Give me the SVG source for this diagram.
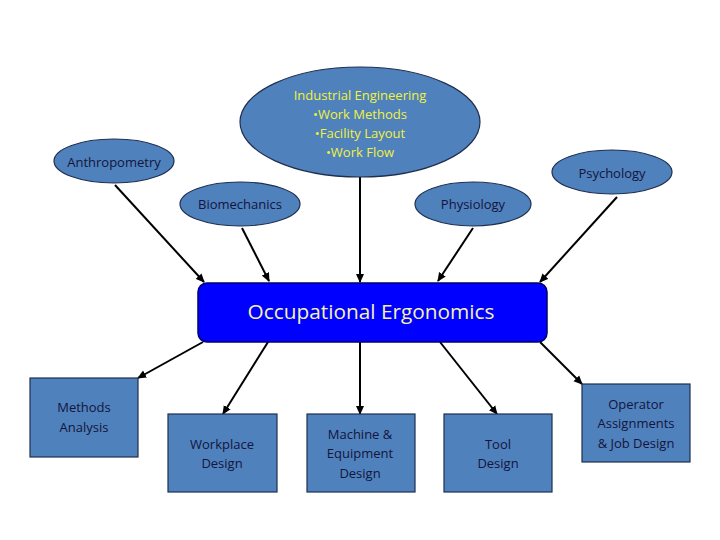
<svg xmlns="http://www.w3.org/2000/svg" width="720" height="540" viewBox="0 0 720 540">
<style>
.n{fill:#4f81bd;stroke:#1f2f4f;stroke-width:1.2}
.t{font-family:"Open Sans","Liberation Sans",sans-serif;font-size:13px;fill:#14143c;text-anchor:middle}
.y{fill:#f2f23c}
.c line{stroke:#000;stroke-width:2;marker-end:url(#a)}
</style>
<defs>
<marker id="a" markerWidth="9" markerHeight="9" refX="8" refY="4.5" orient="auto" markerUnits="userSpaceOnUse">
<path d="M0,0.5 L9,4.5 L0,8.5 Z" fill="#000"/>
</marker>
</defs>
<rect width="720" height="540" fill="#fff"/>
<g class="c">
<line x1="115" y1="185" x2="204" y2="282"/>
<line x1="242" y1="228" x2="269" y2="281"/>
<line x1="360" y1="177" x2="360" y2="282"/>
<line x1="473" y1="228" x2="438" y2="281"/>
<line x1="617" y1="197" x2="540" y2="282"/>
<line x1="203" y1="342" x2="138" y2="378"/>
<line x1="268" y1="342" x2="223" y2="414"/>
<line x1="360" y1="342" x2="360" y2="414"/>
<line x1="440" y1="342" x2="497" y2="414"/>
<line x1="540" y1="342" x2="582" y2="384"/>
</g>
<g id="ie"><ellipse class="n" cx="360" cy="122" rx="120" ry="55"/>
<text class="t y" x="360" y="100">Industrial Engineering</text>
<text class="t y" x="360" y="119">•Work Methods</text>
<text class="t y" x="360" y="138">•Facility Layout</text>
<text class="t y" x="360" y="157">•Work Flow</text></g>
<g id="anthro"><ellipse class="n" cx="114" cy="161" rx="60" ry="22"/><text class="t" x="114" y="167">Anthropometry</text></g>
<g id="psych"><ellipse class="n" cx="612" cy="172" rx="60" ry="22"/><text class="t" x="612" y="178">Psychology</text></g>
<g id="bio"><ellipse class="n" cx="240" cy="204" rx="60" ry="22"/><text class="t" x="240" y="209">Biomechanics</text></g>
<g id="physio"><ellipse class="n" cx="473" cy="204" rx="58" ry="22"/><text class="t" x="473" y="209">Physiology</text></g>
<g id="oe"><rect x="198" y="283" width="349" height="59" rx="9" fill="#0000ff" stroke="#00006e" stroke-width="1.5"/>
<text x="371" y="319" font-family="'Open Sans','Liberation Sans',sans-serif" font-size="20.8" fill="#f4f4b0" text-anchor="middle">Occupational Ergonomics</text></g>
<g id="methods"><rect class="n" x="30" y="378" width="108" height="79"/>
<text class="t" x="84" y="412">Methods</text><text class="t" x="84" y="432">Analysis</text></g>
<g id="workplace"><rect class="n" x="168" y="414" width="109" height="78"/>
<text class="t" x="222" y="449">Workplace</text><text class="t" x="222" y="468">Design</text></g>
<g id="machine"><rect class="n" x="307" y="414" width="108" height="78"/>
<text class="t" x="360" y="439">Machine &amp;</text><text class="t" x="360" y="458">Equipment</text><text class="t" x="360" y="478">Design</text></g>
<g id="tool"><rect class="n" x="444" y="414" width="108" height="78"/>
<text class="t" x="498" y="449">Tool</text><text class="t" x="498" y="468">Design</text></g>
<g id="operator"><rect class="n" x="582" y="384" width="108" height="78"/>
<text class="t" x="636" y="409">Operator</text><text class="t" x="636" y="428">Assignments</text><text class="t" x="636" y="448">&amp; Job Design</text></g>
</svg>
